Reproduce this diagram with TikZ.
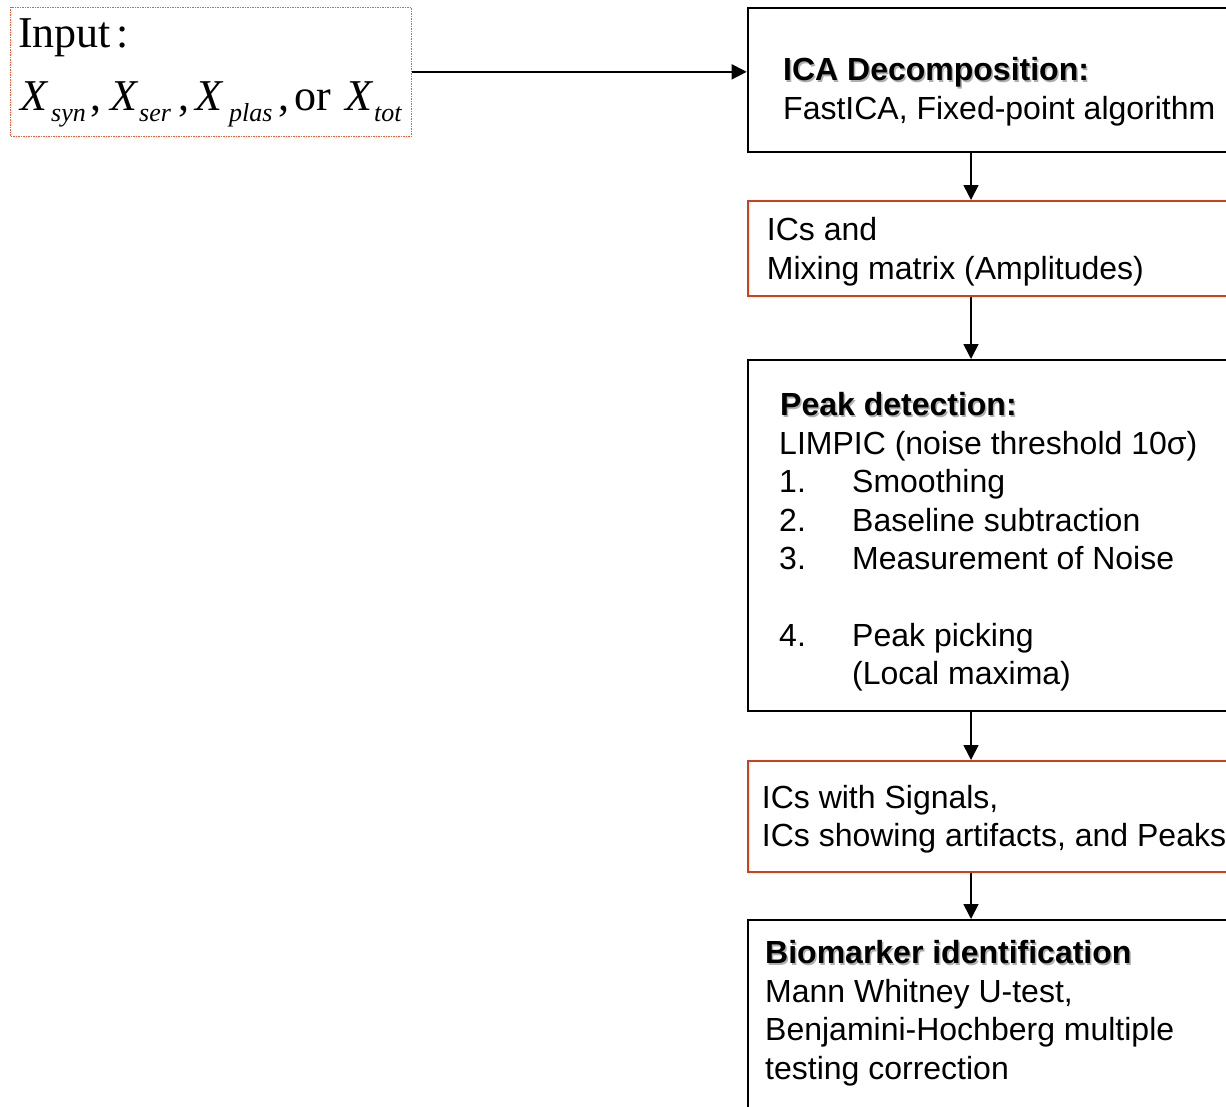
\documentclass[tikz,border=0pt]{standalone}
\usepackage{fontspec}
\setmainfont{Liberation Sans}
\newfontfamily\timesf{Liberation Serif}
\usetikzlibrary{arrows.meta}
\definecolor{boxred}{RGB}{205,65,25}
\definecolor{dotred}{RGB}{232,95,55}
\definecolor{shadowgray}{RGB}{175,175,175}
\begin{document}
\begin{tikzpicture}[x=1pt,y=-1pt,
  blackbox/.style={draw=black,line width=2pt,minimum width=620pt,anchor=north west,inner sep=0pt},
  redbox/.style={draw=boxred,line width=2pt,minimum width=620pt,anchor=north west,inner sep=0pt},
  inbox/.style={draw=dotred,dash pattern=on 1.5pt off 1pt,line width=1pt,anchor=north west,inner sep=0pt},
  txt/.style={anchor=base west,inner sep=0pt,font=\fontsize{32}{38}\selectfont},
  hdr/.style={anchor=base west,inner sep=0pt,font=\fontsize{32}{38}\selectfont\bfseries},
  hdrsh/.style={hdr,text=shadowgray},
  big/.style={anchor=base west,inner sep=0pt,font=\timesf\fontsize{44}{50}\selectfont},
  bigit/.style={big,font=\timesf\itshape\fontsize{44}{50}\selectfont},
  subit/.style={anchor=base west,inner sep=0pt,font=\timesf\itshape\fontsize{26}{30}\selectfont},
  arr/.style={-{Triangle[length=15pt,width=15pt]},line width=1.6pt}]
\useasboundingbox (0,0) rectangle (1226,1106);
\clip (0,0) rectangle (1226,1106);
\fill[white] (0,0) rectangle (1226,1106);

% input box
\node[inbox,minimum width=400.7pt,minimum height=129.3pt] (inp) at (10,6.7) {};
\node[big] (inlab) at (18,47) {Input\hspace{5pt}:};
\node[bigit] (x1) at (20,110) {X};
\node[subit] (s1) at (51,121) {syn};
\node[big] (c1) at (90,110) {,};
\node[bigit] (x2) at (110,110) {X};
\node[subit] (s2) at (139,121) {ser};
\node[big] (c2) at (178,110) {,};
\node[bigit] (x3) at (195,110) {X};
\node[subit] (s3) at (229,121) {plas};
\node[big] (c3) at (278,110) {,};
\node[big] (orw) at (294,110) {or};
\node[bigit] (x4) at (345,110) {X};
\node[subit] (s4) at (374,121) {tot};

% boxes
\node[blackbox,minimum height=144pt] (ica) at (746.7,7) {};
\node[redbox,minimum height=95pt] (ics) at (746.7,200) {};
\node[blackbox,minimum height=351pt] (peak) at (746.7,359) {};
\node[redbox,minimum height=111pt] (sig) at (746.7,760) {};
\node[blackbox,minimum height=260pt] (bio) at (746.7,919) {};

% box texts
\node[hdrsh] (h1s) at (784.5,82) {ICA Decomposition:};
\node[hdr] (h1) at (783,80.5) {ICA Decomposition:};
\node[txt] (t1) at (783,119) {FastICA, Fixed-point algorithm};

\node[txt] (t2a) at (766.7,240) {ICs and};
\node[txt] (t2b) at (766.7,279) {Mixing matrix (Amplitudes)};

\node[hdrsh] (h3s) at (781.5,417) {Peak detection:};
\node[hdr] (h3) at (780,415.5) {Peak detection:};
\node[txt] (t3a) at (779,454) {LIMPIC (noise threshold 10σ)};
\node[txt] (t3b) at (779,492.5) {\makebox[73pt][l]{1.}Smoothing};
\node[txt] (t3c) at (779,531) {\makebox[73pt][l]{2.}Baseline subtraction};
\node[txt] (t3d) at (779,569.5) {\makebox[73pt][l]{3.}Measurement of Noise};
\node[txt] (t3e) at (779,646) {\makebox[73pt][l]{4.}Peak picking};
\node[txt] (t3f) at (779,684) {\hspace{73pt}(Local maxima)};

\node[txt] (t4a) at (761.7,808) {ICs with Signals,};
\node[txt] (t4b) at (761.7,846) {ICs showing artifacts, and Peaks};

\node[hdrsh] (h5s) at (766.5,965) {Biomarker identification};
\node[hdr] (h5) at (765,963.5) {Biomarker identification};
\node[txt] (t5a) at (765,1002) {Mann Whitney U-test,};
\node[txt] (t5b) at (765,1040.5) {Benjamini-Hochberg multiple};
\node[txt] (t5c) at (765,1079) {testing correction};

% connectors
\coordinate (ax) at (971,0);
\draw[arr] (inp.east) -- (inp.east -| ica.west);
\draw[arr] (ica.south -| ax) -- (ics.north -| ax);
\draw[arr] (ics.south -| ax) -- (peak.north -| ax);
\draw[arr] (peak.south -| ax) -- (sig.north -| ax);
\draw[arr] (sig.south -| ax) -- (bio.north -| ax);
\end{tikzpicture}
\end{document}
